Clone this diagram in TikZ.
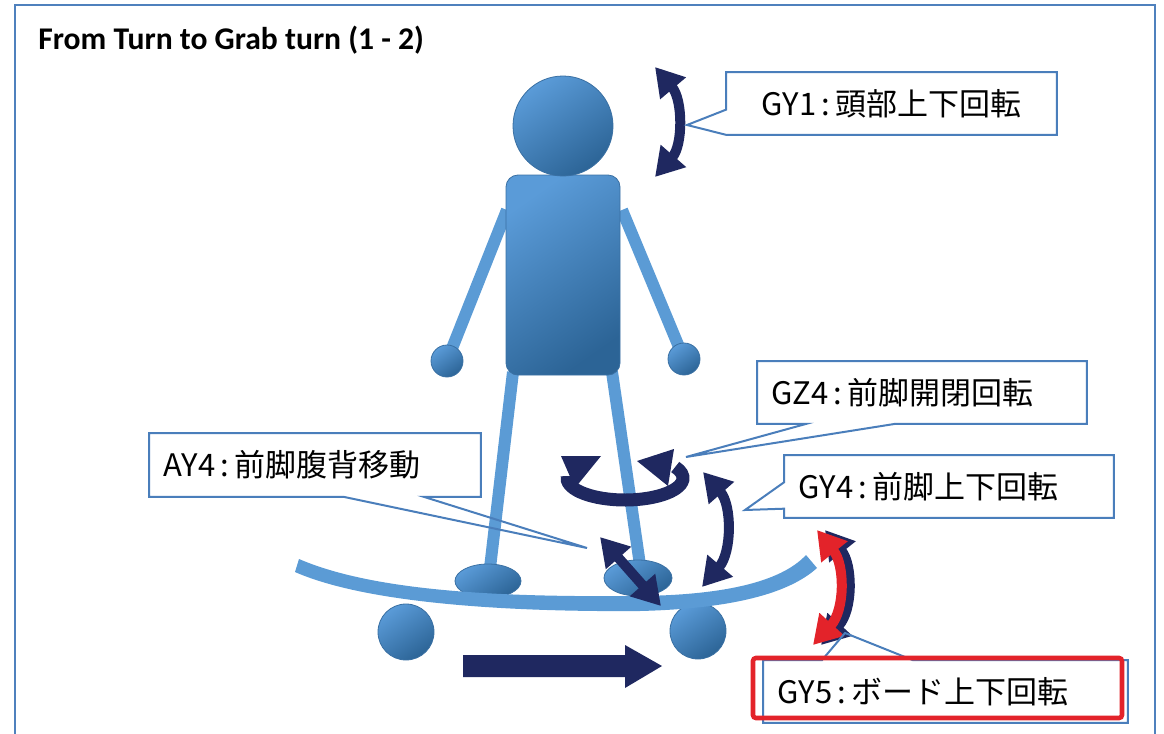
\documentclass[tikz,border=0pt]{standalone}
\usepackage{fontspec}
\usetikzlibrary{positioning, arrows.meta, calc}
\newfontfamily\titlefont{Carlito}
\newfontfamily\jpfont{Noto Sans CJK JP}
\definecolor{framecol}{HTML}{4F81BD}
\definecolor{boxcol}{HTML}{4A7EBB}
\definecolor{limbcol}{HTML}{5B9BD5}
\definecolor{bodytop}{HTML}{5A9BD8}
\definecolor{bodybot}{HTML}{2C6496}
\definecolor{bodyedge}{HTML}{3A70A3}
\definecolor{navy}{HTML}{1F2860}
\definecolor{alertred}{HTML}{E3232A}
\tikzset{
  % shaded parts of the rider and the wheels
  bodypart/.style={draw=bodyedge, line width=0.4pt, top color=bodytop,
                   bottom color=bodybot, shading angle=35},
  % stick arms and legs
  limb/.style={draw=limbcol, line width=6pt},
  % double headed motion arrow
  motion/.style={draw=#1, line width=5pt, >={Triangle[width=16pt,length=14pt]}, <->},
  motion/.default=navy,
  % text part of a callout
  callbox/.style={fill=white, anchor=north west, minimum height=31pt,
                  inner xsep=7pt, inner ysep=0pt, align=left,
                  font=\jpfont\fontsize{15.5}{18}\selectfont},
  % outline of a callout with its wedge
  callline/.style={draw=boxcol, line width=1pt, line join=miter},
}

\begin{document}
\begin{tikzpicture}[x=0.5pt, y=-0.5pt]
  \useasboundingbox (0,0) rectangle (1164,734);
  % frame, open at the bottom
  \draw[framecol, line width=1pt] (15,734) -- (15,5) -- (1155,5) -- (1155,734);
  \node[anchor=base west, inner sep=0pt,
        font=\titlefont\bfseries\fontsize{15.8}{18}\selectfont]
    (title) at (38,49) {From Turn to Grab turn (1 - 2)};

  % wheels
  \foreach \x/\y in {406/632, 698/631}
    \draw[bodypart] (\x,\y) circle[radius=28];
  % arms and legs sit behind the body
  \draw[limb] (507,210) -- (447,361);
  \draw[limb] (622,210) -- (684,359);
  \draw[limb] (513,372) -- (490,568);
  \draw[limb] (612,372) -- (640,565);
  % hands
  \foreach \x/\y in {447/361, 684/359}
    \draw[bodypart] (\x,\y) circle[radius=16];
  % body and head
  \draw[bodypart, rounded corners=6pt] (506,175) rectangle (620,375);
  \draw[bodypart] (563,126) circle[radius=50];
  % feet
  \draw[bodypart] (488,581) ellipse[x radius=33, y radius=17];
  \draw[bodypart] (638,578) ellipse[x radius=34, y radius=18];
  % deck
  \fill[limbcol] (299,559) .. controls (380,594) and (520,597) .. (640,596)
    .. controls (720,595) and (780,583) .. (806,555)
    -- (817,568) .. controls (785,597) and (720,609) .. (640,611)
    .. controls (520,612) and (370,605) .. (295,572) -- cycle;

  % riding direction
  \fill[navy] (463,655) -- (625,655) -- (625,645) -- (662,666)
    -- (625,688) -- (625,677) -- (463,677) -- cycle;

  % head nod
  \draw[motion] (655,67) .. controls (683,100) and (683,145) .. (655,177);
  % front leg up/down
  \draw[motion] (703,472) .. controls (732,505) and (732,552) .. (702,587);
  % front leg forward/back
  \draw[motion] (600,537) -- (661,606);
  % front leg open/close ring
  \draw[navy, line width=6.5pt] (625,478) ++(185:58 and 22)
    arc[start angle=185, end angle=-30, x radius=58, y radius=22];
  \fill[navy] (561,456) -- (601,456) -- (575,488) -- cycle;
  \fill[navy] (637,461) -- (674,449) -- (668,486) -- cycle;
  % board tilt, dark one behind the red one
  \draw[motion] (825,530) .. controls (853,565) and (853,610) .. (821,645);
  \draw[motion=alertred] (817,530) .. controls (845,565) and (845,610) .. (813,645);

  % callouts
  \node[callbox, minimum width=165pt, text width=151pt, align=center]
    (gy1) at (726,72) {GY1\,:\,頭部上下回転};
  \coordinate (gy1 tip) at (687,125);
  \draw[callline] (gy1.south west) -- (gy1 tip)
    -- ($(gy1.south west)!0.4!(gy1.north west)$) -- (gy1.north west)
    -- (gy1.north east) -- (gy1.south east) -- cycle;

  \node[callbox, minimum width=164.5pt, text width=150.5pt]
    (gz4) at (757,361) {GZ4\,:\,前脚開閉回転};
  \coordinate (gz4 tip) at (686,457);
  \draw[callline] (gz4.south west)
    -- ($(gz4.south west)!0.15!(gz4.south east)$) -- (gz4 tip)
    -- ($(gz4.south west)!0.42!(gz4.south east)$) -- (gz4.south east)
    -- (gz4.north east) -- (gz4.north west) -- cycle;

  \node[callbox, minimum width=164.5pt, text width=150.5pt]
    (gy4) at (784,455) {GY4\,:\,前脚上下回転};
  \coordinate (gy4 tip) at (745,510);
  \draw[callline] (gy4.south west)
    -- ($(gy4.south west)!0.145!(gy4.north west)$) -- (gy4 tip)
    -- ($(gy4.south west)!0.565!(gy4.north west)$) -- (gy4.north west)
    -- (gy4.north east) -- (gy4.south east) -- cycle;

  \node[callbox, minimum width=165.5pt, minimum height=31.5pt, text width=151.5pt]
    (ay4) at (149,433) {AY4\,:\,前脚腹背移動};
  \coordinate (ay4 tip) at (587,548);
  \draw[callline] (ay4.south west)
    -- ($(ay4.south west)!0.586!(ay4.south east)$) -- (ay4 tip)
    -- ($(ay4.south west)!0.828!(ay4.south east)$) -- (ay4.south east)
    -- (ay4.north east) -- (ay4.north west) -- cycle;

  \node[callbox, minimum width=182pt, text width=168pt]
    (gy5) at (763,660) {GY5\,:\,ボード上下回転};
  \coordinate (gy5 tip) at (845,633);
  \draw[callline] (gy5.north west)
    -- ($(gy5.north west)!0.162!(gy5.north east)$) -- (gy5 tip)
    -- ($(gy5.north west)!0.41!(gy5.north east)$) -- (gy5.north east)
    -- (gy5.south east) -- (gy5.south west) -- cycle;
  % highlight on the board callout
  \draw[alertred, line width=2.3pt, rounded corners=1.5pt] (753,658) rectangle (1122,718);
\end{tikzpicture}
\end{document}
